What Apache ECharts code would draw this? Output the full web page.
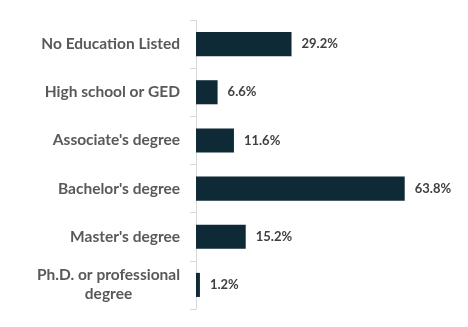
<!DOCTYPE html>
<html><head><meta charset="utf-8">
<script src="https://cdn.jsdelivr.net/npm/echarts@6/dist/echarts.min.js"></script>
<style>html,body{margin:0;padding:0;background:#fff}#c{width:468px;height:327px}</style>
</head><body><div id="c"></div>
<script>
const categories = ["No Education Listed","High school or GED","Associate's degree","Bachelor's degree","Master's degree","Ph.D. or professional\ndegree"];
const values = [29.2, 6.6, 11.6, 63.8, 15.2, 1.2];

const chart = echarts.init(document.getElementById('c'), null, {renderer:'canvas'});
const font = 'Lato';
const catData = categories.map(function(c){
  if (c.indexOf('\n') >= 0) {
    return {value: c, textStyle: {align: 'center', padding: [0, 143, 0, 0], lineHeight: 19}};
  }
  return c;
});
chart.setOption({
  animation: false,
  grid: {left: 196, top: 20, width: 229, height: 289, containLabel: false},
  xAxis: {type: 'value', min: 0, max: 70, show: false},
  yAxis: {
    type: 'category', inverse: true, data: catData,
    axisLine: {show: true, lineStyle: {color: '#d9d9d9', width: 1}},
    axisTick: {show: true, length: 6, lineStyle: {color: '#d9d9d9'}},
    axisLabel: {margin: 16, color: '#595959', fontFamily: font, fontWeight: 'bold', fontSize: 15.5, lineHeight: 19}
  },
  series: [{
    type: 'bar', data: values, barCategoryGap: '50%',
    itemStyle: {color: '#0e2a36'},
    label: {show: true, position: 'right', distance: 10, color: '#404040', fontFamily: font, fontWeight: 'bold', fontSize: 13,
      formatter: function(p){ return p.value.toFixed(1) + '%'; }}
  }]
});
</script></body></html>
